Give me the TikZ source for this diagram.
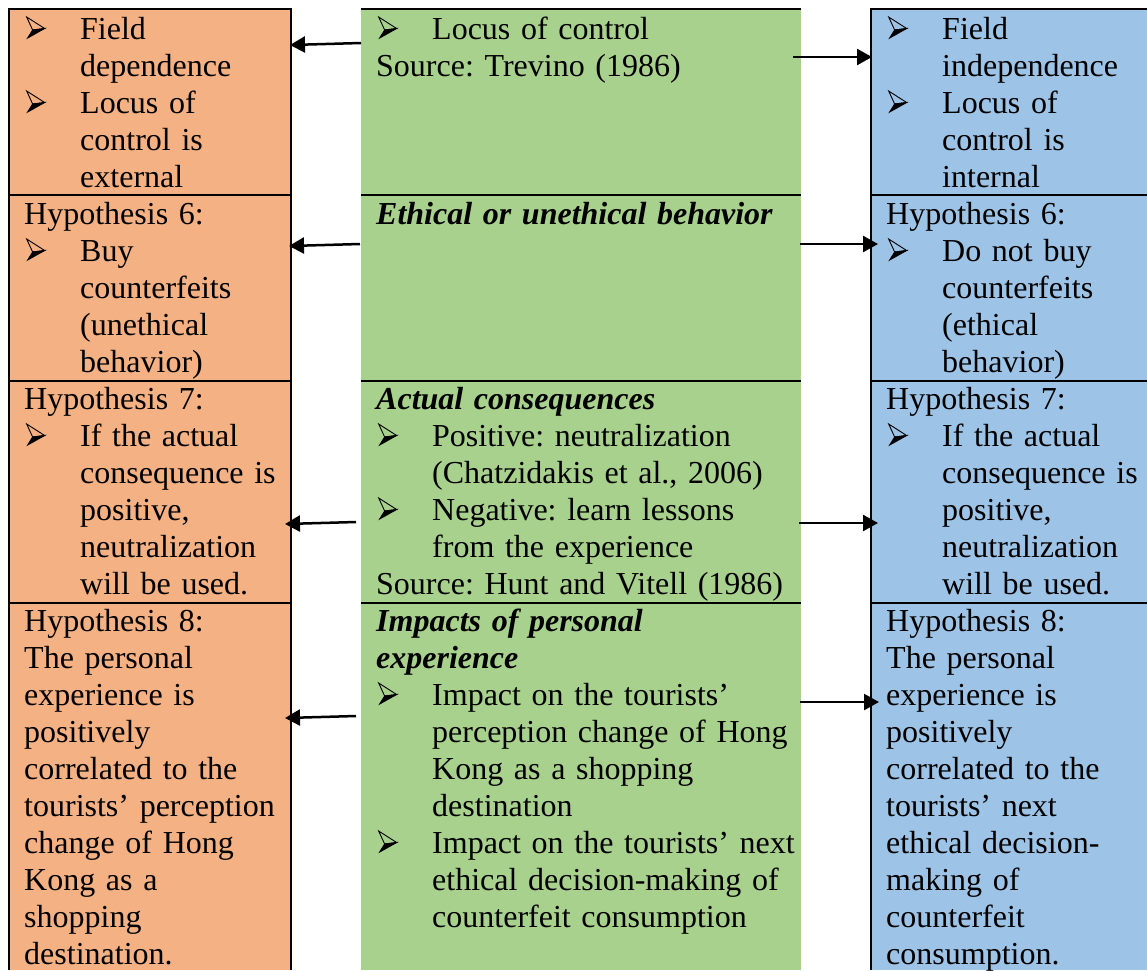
\documentclass[tikz,border=0pt]{standalone}
\usepackage{fontspec}
\setmainfont{Liberation Serif}
\usetikzlibrary{arrows.meta}

\definecolor{cellorange}{RGB}{244,177,131}
\definecolor{cellgreen}{RGB}{169,209,142}
\definecolor{cellblue}{RGB}{157,195,230}

\newsavebox\arrowbullet
% bullet with hanging indent, and the matching indent for continuation lines
\newcommand{\bl}{\makebox[56pt][l]{\hspace*{2pt}\usebox\arrowbullet}}
\newcommand{\ind}{\hspace*{56pt}}
\newcommand{\hd}[1]{\textbf{\textit{#1}}}

\tikzset{
  rule/.style={line width=2pt, black},
  celltext/.style={anchor=base west, inner sep=0pt, align=left,
    font=\fontsize{32}{37}\selectfont\frenchspacing},
  headtip/.tip={Triangle[length=15pt,width=16pt]},
  conn/.style={line width=2.5pt, -headtip},
}

\begin{document}
% three-dimensional arrowhead bullet: open upper half, filled lower half
\sbox\arrowbullet{\begin{pgfpicture}
  \pgfsetbaseline{0pt}
  \pgfsetmiterjoin
  \pgfsetlinewidth{0.9pt}
  \pgfpathmoveto{\pgfpoint{6pt}{9pt}}
  \pgfpathlineto{\pgfpoint{18pt}{10.5pt}}
  \pgfpathlineto{\pgfpoint{1pt}{1pt}}
  \pgfpathclose
  \pgfusepath{fill,stroke}
  \pgfpathmoveto{\pgfpoint{0pt}{22pt}}
  \pgfpathlineto{\pgfpoint{18pt}{10.5pt}}
  \pgfpathlineto{\pgfpoint{6pt}{9pt}}
  \pgfpathclose
  \pgfusepath{stroke}
\end{pgfpicture}}
\begin{tikzpicture}[x=1pt,y=-1pt]
\useasboundingbox (0,0) rectangle (1147,970);

% column backgrounds
\fill[cellorange] (9,9) rectangle (291,970);
\fill[cellgreen] (361,9) rectangle (801,970);
\fill[cellblue] (871,9) rectangle (1147,970);

% borders and row rules
\draw[rule] (9,970) -- (9,9) -- (291,9) -- (291,970);
\draw[rule] (361,9) -- (801,9);
\draw[rule] (871,970) -- (871,9) -- (1147,9);
\foreach \y in {195,381,603} {
  \draw[rule] (9,\y) -- (291,\y);
  \draw[rule] (361,\y) -- (801,\y);
  \draw[rule] (871,\y) -- (1147,\y);
}

% left column
\node[celltext, text width=262pt] (o1) at (24,39)
  {\bl Field\\ \ind dependence\\ \bl Locus of\\ \ind control is\\ \ind external};
\node[celltext, text width=262pt] (o2) at (24,224)
  {Hypothesis 6:\\ \bl Buy\\ \ind counterfeits\\ \ind (unethical\\ \ind behavior)};
\node[celltext, text width=262pt] (o3) at (24,409)
  {Hypothesis 7:\\ \bl If the actual\\ \ind consequence is\\ \ind positive,\\ \ind neutralization\\ \ind will be used.};
\node[celltext, text width=262pt] (o4) at (24,631)
  {Hypothesis 8:\\ The personal\\ experience is\\ positively\\ correlated to the\\ tourists’ perception\\ change of Hong\\ Kong as a\\ shopping\\ destination.};

% middle column
\node[celltext, text width=420pt] (g1) at (376,39)
  {\bl Locus of control\\ Source: Trevino (1986)};
\node[celltext, text width=420pt] (g2) at (376,224)
  {\hd{Ethical or unethical behavior}};
\node[celltext, text width=420pt] (g3) at (376,409)
  {\hd{Actual consequences}\\ \bl Positive: neutralization\\ \ind (Chatzidakis et al., 2006)\\ \bl Negative: learn lessons\\ \ind from the experience\\ Source: Hunt and Vitell (1986)};
\node[celltext, text width=420pt] (g4) at (376,631)
  {\hd{Impacts of personal}\\ \hd{experience}\\ \bl Impact on the tourists’\\ \ind perception change of Hong\\ \ind Kong as a shopping\\ \ind destination\\ \bl Impact on the tourists’ next\\ \ind ethical decision-making of\\ \ind counterfeit consumption};

% right column
\node[celltext, text width=258pt] (b1) at (886,39)
  {\bl Field\\ \ind independence\\ \bl Locus of\\ \ind control is\\ \ind internal};
\node[celltext, text width=258pt] (b2) at (886,224)
  {Hypothesis 6:\\ \bl Do not buy\\ \ind counterfeits\\ \ind (ethical\\ \ind behavior)};
\node[celltext, text width=258pt] (b3) at (886,409)
  {Hypothesis 7:\\ \bl If the actual\\ \ind consequence is\\ \ind positive,\\ \ind neutralization\\ \ind will be used.};
\node[celltext, text width=258pt] (b4) at (886,631)
  {Hypothesis 8:\\ The personal\\ experience is\\ positively\\ correlated to the\\ tourists’ next\\ ethical decision-\\ making of\\ counterfeit\\ consumption.};

% connector ends
\coordinate (gl1) at (361,43);  \coordinate (ol1) at (290,45);
\coordinate (gl2) at (360,244); \coordinate (ol2) at (289,246);
\coordinate (gl3) at (356,522); \coordinate (ol3) at (285,524);
\coordinate (gl4) at (356,716); \coordinate (ol4) at (285,718);
\coordinate (gr1) at (793,57);  \coordinate (br1) at (872,57);
\coordinate (gr2) at (800,244); \coordinate (br2) at (878,244);
\coordinate (gr3) at (799,523); \coordinate (br3) at (878,523);
\coordinate (gr4) at (800,702); \coordinate (br4) at (879,702);

\foreach \i in {1,2,3,4} {
  \draw[conn] (gl\i) -- (ol\i);
  \draw[conn] (gr\i) -- (br\i);
}
\end{tikzpicture}
\end{document}
